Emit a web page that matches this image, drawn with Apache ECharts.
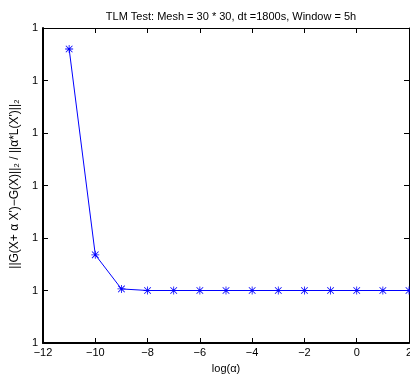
<!DOCTYPE html>
<html>
<head>
<meta charset="utf-8">
<script src="https://cdn.jsdelivr.net/npm/echarts@6/dist/echarts.min.js"></script>
<style>
html, body { margin: 0; padding: 0; background: #fff; }
#main { width: 410px; height: 377px; }
</style>
</head>
<body>
<div id="main"></div>
<script>
// log(alpha) values and the ratio
var logAlpha = [-11, -10, -9, -8, -7, -6, -5, -4, -3, -2, -1, 0, 1, 2];
var ratio = [1.0000056, 1.00000168, 1.00000103, 1.000001, 1.000001, 1.000001, 1.000001,
             1.000001, 1.000001, 1.000001, 1.000001, 1.000001, 1.000001, 1.000001];
var yMin = 1, yMax = 1.000006, yStep = 0.000001;

var pts = [];
for (var i = 0; i < logAlpha.length; i++) {
    pts.push([logAlpha[i], ratio[i]]);
}

// matlab style asterisk marker
var star = 'path://M4.5 0L5.5 0L5.5 10L4.5 10Z M0 4.5L10 4.5L10 5.5L0 5.5Z ' +
           'M1.2 0.5L9.5 8.8L8.8 9.5L0.5 1.2Z M8.8 0.5L9.5 1.2L1.2 9.5L0.5 8.8Z';

function minus(v) {
    return String(v).replace('-', '\u2212');
}

var font = 'Liberation Sans';
var myChart = echarts.init(document.getElementById('main'));

var option = {
    animation: false,
    title: {
        text: 'TLM Test: Mesh = 30 * 30, dt =1800s, Window = 5h',
        left: 226, top: 6, textAlign: 'center',
        textStyle: { fontFamily: font, fontSize: 11, fontWeight: 'normal', color: '#000' }
    },
    grid: { left: 43, right: 1, top: 28, bottom: 34, outerBoundsMode: 'none' },
    xAxis: [{
        type: 'value', min: -12, max: 2, interval: 2,
        name: 'log(\u03b1)', nameLocation: 'middle', nameGap: 20,
        nameTextStyle: { fontFamily: font, fontSize: 11, color: '#000' },
        axisLine: { onZero: false, lineStyle: { color: '#000', width: 2 } },
        axisTick: { inside: true, length: 5, lineStyle: { color: '#000' } },
        axisLabel: { fontFamily: font, fontSize: 11, color: '#000', margin: 4, formatter: minus },
        splitLine: { show: false }
    }, {
        type: 'value', min: -12, max: 2, interval: 2, position: 'top',
        axisLine: { onZero: false, lineStyle: { color: '#000', width: 1 } },
        axisTick: { inside: true, length: 5, lineStyle: { color: '#000' } },
        axisLabel: { show: false }, splitLine: { show: false }
    }],
    yAxis: [{
        type: 'value', min: yMin, max: yMax, interval: yStep,
        name: '||G(X+ \u03b1 X\')\u2212G(X)||\u2082 / ||\u03b1*L(X\')||\u2082',
        nameLocation: 'middle', nameRotate: 90, nameGap: 22,
        nameTextStyle: { fontFamily: font, fontSize: 12, color: '#000', padding: [0, 0, 0, 3] },
        axisLine: { onZero: false, lineStyle: { color: '#000', width: 2 } },
        axisTick: { inside: true, length: 5, lineStyle: { color: '#000' } },
        axisLabel: {
            fontFamily: font, fontSize: 11, color: '#000', margin: 5,
            formatter: function (v) { return String(Math.round(v)); }
        },
        splitLine: { show: false }
    }, {
        type: 'value', min: yMin, max: yMax, interval: yStep, position: 'right',
        axisLine: { onZero: false, lineStyle: { color: '#000', width: 1 } },
        axisTick: { inside: true, length: 5, lineStyle: { color: '#000' } },
        axisLabel: { show: false }, splitLine: { show: false }
    }],
    series: [{
        type: 'line',
        data: pts,
        symbol: star,
        symbolSize: 8,
        showAllSymbol: true,
        lineStyle: { color: '#0000ff', width: 1 },
        itemStyle: { color: '#0000ff' }
    }]
};

myChart.setOption(option);
</script>
</body>
</html>
